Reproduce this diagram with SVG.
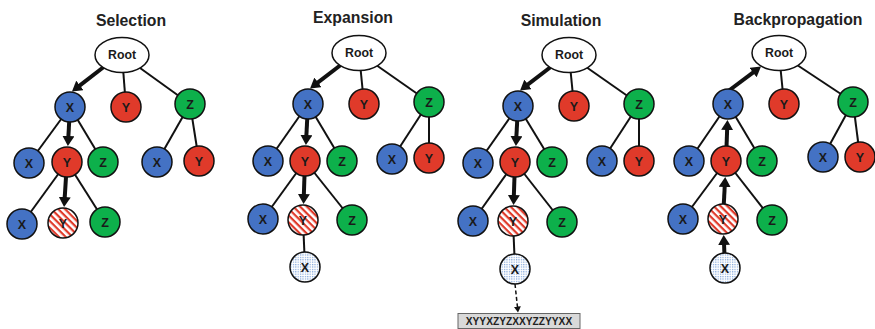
<svg xmlns="http://www.w3.org/2000/svg" width="875" height="329" viewBox="0 0 875 329">
<style>
.title{font-family:"Liberation Sans",Arial,sans-serif;font-weight:bold;font-size:15.8px;fill:#222;text-anchor:middle}
.lbl{font-family:"Liberation Sans",Arial,sans-serif;font-weight:bold;font-size:12.5px;fill:#1a1a1a;text-anchor:middle}
.rt{font-size:12.3px}
.n{stroke:#111;stroke-width:1.5}
.b{fill:#4472C4}.r{fill:#E03A2A}.g{fill:#0DB04B}.w{fill:#fff}.h{fill:url(#hatch)}.d{fill:url(#dots)}
.e{stroke:#111;stroke-width:2;fill:none}
.a{stroke:#111;stroke-width:4;fill:none;marker-end:url(#ah)}
.dash{stroke:#111;stroke-width:1.5;stroke-dasharray:4 2.5;fill:none;marker-end:url(#ahs)}
.box{fill:#d9d9d9;stroke:#666;stroke-width:1}
.seq{font-family:"Liberation Sans",Arial,sans-serif;font-weight:bold;font-size:10.2px;fill:#222;text-anchor:middle}
</style>
<defs>
<marker id="ah" markerUnits="userSpaceOnUse" markerWidth="12" markerHeight="12" refX="2" refY="6" orient="auto"><path d="M0,0 L10,6 L0,12 z" fill="#111"/></marker>
<marker id="ahs" markerUnits="userSpaceOnUse" markerWidth="7" markerHeight="7" refX="1" refY="3.5" orient="auto"><path d="M0,0 L6,3.5 L0,7 z" fill="#111"/></marker>
<pattern id="hatch" patternUnits="userSpaceOnUse" width="4.8" height="4.8" patternTransform="rotate(45)"><rect width="4.8" height="4.8" fill="#fff"/><rect width="4.8" height="2.2" fill="#E03A2A"/></pattern>
<pattern id="dots" patternUnits="userSpaceOnUse" width="2.4" height="2.4"><rect width="2.4" height="2.4" fill="#fff"/><rect width="1.2" height="1.2" fill="#7ea3da"/></pattern>
</defs>

<g id="titles">
<text class="title" x="131" y="26">Selection</text>
<text class="title" x="353" y="22.5">Expansion</text>
<text class="title" x="561" y="26">Simulation</text>
<text class="title" x="798" y="25">Backpropagation</text>
</g>

<g id="connectors">
<!-- Selection -->
<line class="e" x1="122" y1="55" x2="126" y2="107"/>
<line class="e" x1="122" y1="55" x2="190" y2="104"/>
<line class="e" x1="70" y1="107" x2="29" y2="163"/>
<line class="e" x1="70" y1="107" x2="103" y2="162"/>
<line class="e" x1="190" y1="104" x2="157" y2="162"/>
<line class="e" x1="190" y1="104" x2="199" y2="161"/>
<line class="e" x1="67" y1="162" x2="22" y2="224"/>
<line class="e" x1="67" y1="162" x2="105" y2="222"/>
<line class="a" x1="105" y1="66" x2="78.3" y2="86.6"/>
<line class="a" x1="70" y1="107" x2="68.3" y2="138"/>
<line class="a" x1="67" y1="162" x2="64.6" y2="199"/>
<!-- Expansion -->
<line class="e" x1="359" y1="53" x2="364" y2="104"/>
<line class="e" x1="359" y1="53" x2="429" y2="102"/>
<line class="e" x1="308" y1="104" x2="268" y2="161"/>
<line class="e" x1="308" y1="104" x2="342" y2="161"/>
<line class="e" x1="429" y1="102" x2="392" y2="159"/>
<line class="e" x1="429" y1="102" x2="429" y2="158"/>
<line class="e" x1="305" y1="161" x2="263" y2="219"/>
<line class="e" x1="305" y1="161" x2="352" y2="220"/>
<line class="e" x1="303" y1="220" x2="305" y2="267"/>
<line class="a" x1="342" y1="64" x2="316.4" y2="83.6"/>
<line class="a" x1="308" y1="104" x2="306.3" y2="137"/>
<line class="a" x1="305" y1="161" x2="303.8" y2="196"/>
<!-- Simulation -->
<line class="e" x1="569" y1="55" x2="574" y2="106"/>
<line class="e" x1="569" y1="55" x2="639" y2="104"/>
<line class="e" x1="518" y1="106" x2="478" y2="163"/>
<line class="e" x1="518" y1="106" x2="552" y2="162"/>
<line class="e" x1="639" y1="104" x2="602" y2="161"/>
<line class="e" x1="639" y1="104" x2="639" y2="161"/>
<line class="e" x1="515" y1="162" x2="473" y2="221"/>
<line class="e" x1="515" y1="162" x2="562" y2="222"/>
<line class="e" x1="513" y1="221" x2="515" y2="269"/>
<line class="a" x1="552" y1="66" x2="526.4" y2="85.6"/>
<line class="a" x1="518" y1="106" x2="516.3" y2="138"/>
<line class="a" x1="515" y1="162" x2="513.8" y2="197"/>
<line class="dash" x1="515" y1="284" x2="517.5" y2="307.5"/>
<!-- Backpropagation -->
<line class="e" x1="779" y1="53" x2="784" y2="104"/>
<line class="e" x1="779" y1="53" x2="853" y2="102"/>
<line class="e" x1="728" y1="104" x2="689" y2="161"/>
<line class="e" x1="728" y1="104" x2="762" y2="161"/>
<line class="e" x1="853" y1="102" x2="823" y2="157"/>
<line class="e" x1="853" y1="102" x2="860" y2="157"/>
<line class="e" x1="726" y1="161" x2="683" y2="219"/>
<line class="e" x1="726" y1="161" x2="772" y2="220"/>
<line class="a" x1="727" y1="92" x2="754.6" y2="71.3"/>
<line class="a" x1="726" y1="161" x2="727.2" y2="128"/>
<line class="a" x1="723" y1="219" x2="724.8" y2="185"/>
<line class="a" x1="725" y1="268" x2="724" y2="243"/>
</g>

<!-- Selection nodes -->
<g id="s-root"><ellipse class="n w" cx="122" cy="55" rx="27" ry="17.5"/><text class="lbl rt" x="122" y="59.4">Root</text></g>
<g id="s-x1"><circle class="n b" cx="70" cy="107" r="15"/><text class="lbl" x="70" y="111.5">X</text></g>
<g id="s-y1"><circle class="n r" cx="126" cy="107" r="15"/><text class="lbl" x="126" y="111.5">Y</text></g>
<g id="s-z1"><circle class="n g" cx="190" cy="104" r="15"/><text class="lbl" x="190" y="108.5">Z</text></g>
<g id="s-x2"><circle class="n b" cx="29" cy="163" r="15"/><text class="lbl" x="29" y="167.5">X</text></g>
<g id="s-y2"><circle class="n r" cx="67" cy="162" r="15"/><text class="lbl" x="67" y="166.5">Y</text></g>
<g id="s-z2"><circle class="n g" cx="103" cy="162" r="15"/><text class="lbl" x="103" y="166.5">Z</text></g>
<g id="s-zx"><circle class="n b" cx="157" cy="162" r="15"/><text class="lbl" x="157" y="166.5">X</text></g>
<g id="s-zy"><circle class="n r" cx="199" cy="161" r="15"/><text class="lbl" x="199" y="165.5">Y</text></g>
<g id="s-x3"><circle class="n b" cx="22" cy="224" r="15"/><text class="lbl" x="22" y="228.5">X</text></g>
<g id="s-yh"><circle class="n h" cx="63" cy="223" r="15"/><text class="lbl" x="63" y="227.5">Y</text></g>
<g id="s-z3"><circle class="n g" cx="105" cy="222" r="15"/><text class="lbl" x="105" y="226.5">Z</text></g>

<!-- Expansion nodes -->
<g id="e-root"><ellipse class="n w" cx="359" cy="53" rx="27" ry="17.5"/><text class="lbl rt" x="359" y="57.4">Root</text></g>
<g id="e-x1"><circle class="n b" cx="308" cy="104" r="15"/><text class="lbl" x="308" y="108.5">X</text></g>
<g id="e-y1"><circle class="n r" cx="364" cy="104" r="15"/><text class="lbl" x="364" y="108.5">Y</text></g>
<g id="e-z1"><circle class="n g" cx="429" cy="102" r="15"/><text class="lbl" x="429" y="106.5">Z</text></g>
<g id="e-x2"><circle class="n b" cx="268" cy="161" r="15"/><text class="lbl" x="268" y="165.5">X</text></g>
<g id="e-y2"><circle class="n r" cx="305" cy="161" r="15"/><text class="lbl" x="305" y="165.5">Y</text></g>
<g id="e-z2"><circle class="n g" cx="342" cy="161" r="15"/><text class="lbl" x="342" y="165.5">Z</text></g>
<g id="e-zx"><circle class="n b" cx="392" cy="159" r="15"/><text class="lbl" x="392" y="163.5">X</text></g>
<g id="e-zy"><circle class="n r" cx="429" cy="158" r="15"/><text class="lbl" x="429" y="162.5">Y</text></g>
<g id="e-x3"><circle class="n b" cx="263" cy="219" r="15"/><text class="lbl" x="263" y="223.5">X</text></g>
<g id="e-yh"><circle class="n h" cx="303" cy="220" r="15"/><text class="lbl" x="303" y="224.5">Y</text></g>
<g id="e-z3"><circle class="n g" cx="352" cy="220" r="15"/><text class="lbl" x="352" y="224.5">Z</text></g>
<g id="e-x4"><circle class="n d" cx="305" cy="267" r="15"/><text class="lbl" x="305" y="271.5">X</text></g>

<!-- Simulation nodes -->
<g id="m-root"><ellipse class="n w" cx="569" cy="55" rx="27" ry="17.5"/><text class="lbl rt" x="569" y="59.4">Root</text></g>
<g id="m-x1"><circle class="n b" cx="518" cy="106" r="15"/><text class="lbl" x="518" y="110.5">X</text></g>
<g id="m-y1"><circle class="n r" cx="574" cy="106" r="15"/><text class="lbl" x="574" y="110.5">Y</text></g>
<g id="m-z1"><circle class="n g" cx="639" cy="104" r="15"/><text class="lbl" x="639" y="108.5">Z</text></g>
<g id="m-x2"><circle class="n b" cx="478" cy="163" r="15"/><text class="lbl" x="478" y="167.5">X</text></g>
<g id="m-y2"><circle class="n r" cx="515" cy="162" r="15"/><text class="lbl" x="515" y="166.5">Y</text></g>
<g id="m-z2"><circle class="n g" cx="552" cy="162" r="15"/><text class="lbl" x="552" y="166.5">Z</text></g>
<g id="m-zx"><circle class="n b" cx="602" cy="161" r="15"/><text class="lbl" x="602" y="165.5">X</text></g>
<g id="m-zy"><circle class="n r" cx="639" cy="161" r="15"/><text class="lbl" x="639" y="165.5">Y</text></g>
<g id="m-x3"><circle class="n b" cx="473" cy="221" r="15"/><text class="lbl" x="473" y="225.5">X</text></g>
<g id="m-yh"><circle class="n h" cx="513" cy="221" r="15"/><text class="lbl" x="513" y="225.5">Y</text></g>
<g id="m-z3"><circle class="n g" cx="562" cy="222" r="15"/><text class="lbl" x="562" y="226.5">Z</text></g>
<g id="m-x4"><circle class="n d" cx="515" cy="269" r="15"/><text class="lbl" x="515" y="273.5">X</text></g>
<g id="m-seq"><rect class="box" x="458" y="313.5" width="122" height="15"/><text class="seq" x="519" y="325">XYYXZYZXXYZZYYXX</text></g>

<!-- Backpropagation nodes -->
<g id="b-root"><ellipse class="n w" cx="779" cy="53" rx="27" ry="17.5"/><text class="lbl rt" x="779" y="57.4">Root</text></g>
<g id="b-x1"><circle class="n b" cx="728" cy="104" r="15"/><text class="lbl" x="728" y="108.5">X</text></g>
<g id="b-y1"><circle class="n r" cx="784" cy="104" r="15"/><text class="lbl" x="784" y="108.5">Y</text></g>
<g id="b-z1"><circle class="n g" cx="853" cy="102" r="15"/><text class="lbl" x="853" y="106.5">Z</text></g>
<g id="b-x2"><circle class="n b" cx="689" cy="161" r="15"/><text class="lbl" x="689" y="165.5">X</text></g>
<g id="b-y2"><circle class="n r" cx="726" cy="161" r="15"/><text class="lbl" x="726" y="165.5">Y</text></g>
<g id="b-z2"><circle class="n g" cx="762" cy="161" r="15"/><text class="lbl" x="762" y="165.5">Z</text></g>
<g id="b-zx"><circle class="n b" cx="823" cy="157" r="15"/><text class="lbl" x="823" y="161.5">X</text></g>
<g id="b-zy"><circle class="n r" cx="860" cy="157" r="15"/><text class="lbl" x="860" y="161.5">Y</text></g>
<g id="b-x3"><circle class="n b" cx="683" cy="219" r="15"/><text class="lbl" x="683" y="223.5">X</text></g>
<g id="b-yh"><circle class="n h" cx="723" cy="219" r="15"/><text class="lbl" x="723" y="223.5">Y</text></g>
<g id="b-z3"><circle class="n g" cx="772" cy="220" r="15"/><text class="lbl" x="772" y="224.5">Z</text></g>
<g id="b-x4"><circle class="n d" cx="725" cy="268" r="15"/><text class="lbl" x="725" y="272.5">X</text></g>
</svg>
